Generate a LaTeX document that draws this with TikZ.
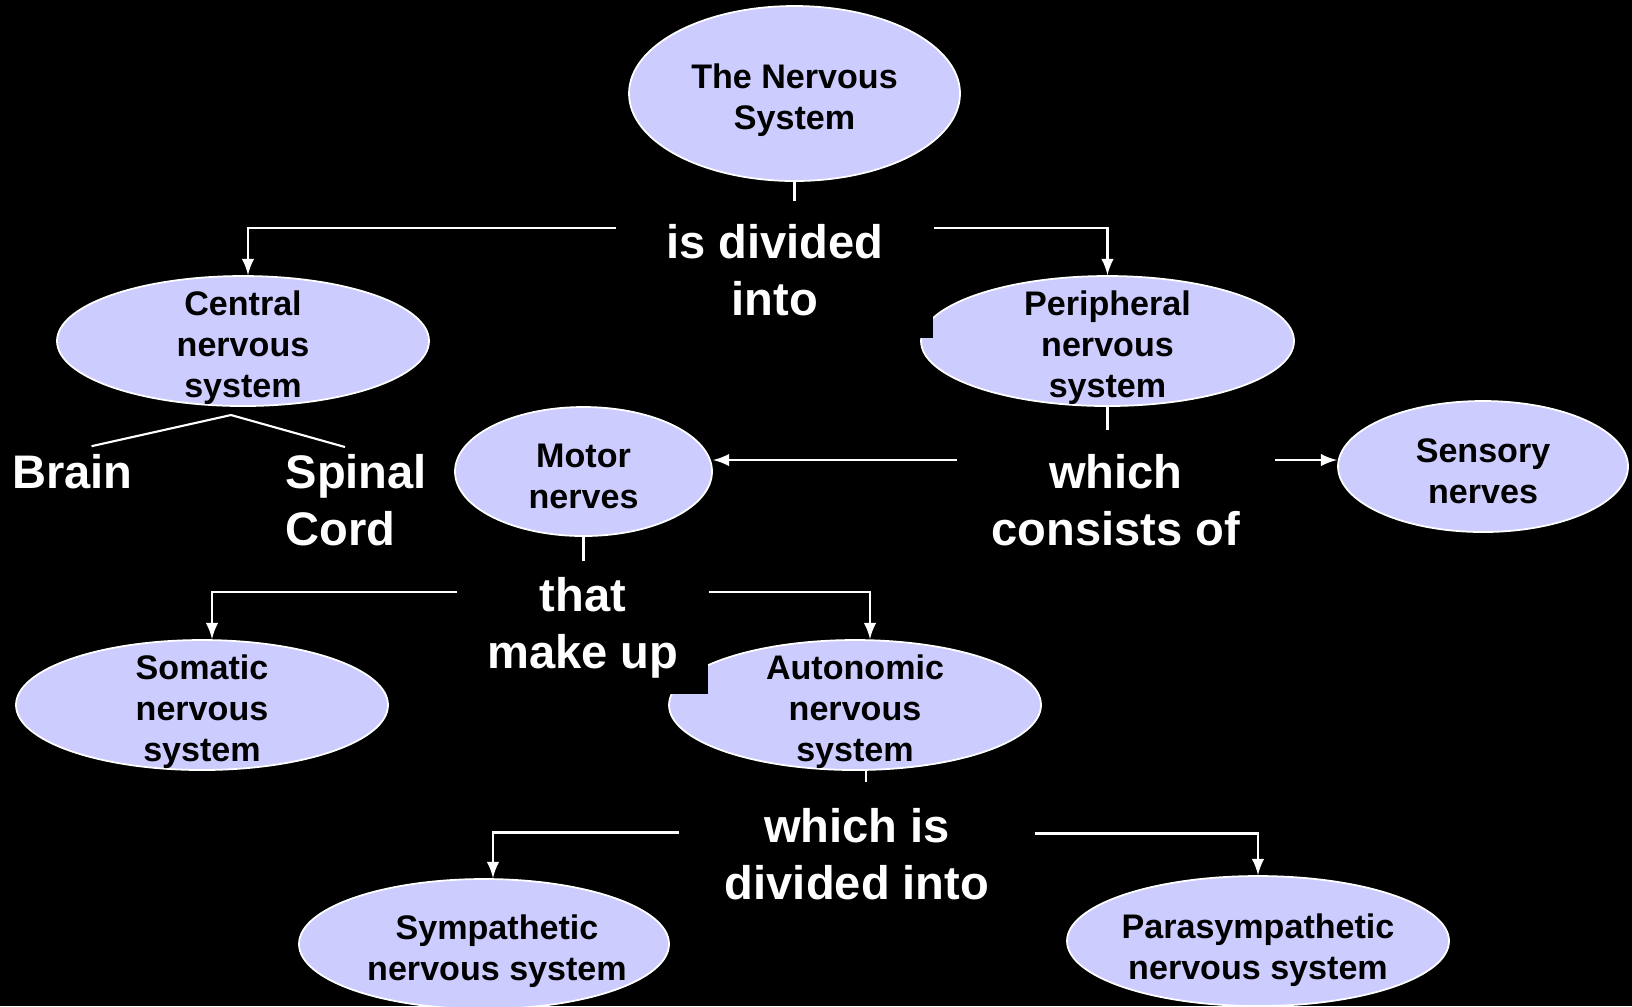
\documentclass[tikz,border=0pt]{standalone}
\usepackage{fontspec}
\setmainfont{Liberation Sans}
\usetikzlibrary{arrows}
\usetikzlibrary{shapes.geometric}
\definecolor{mlav}{rgb}{0.8, 0.8, 1}
\newcommand{\linkfont}{\fontsize{13.4}{16.2}\selectfont\bfseries}
\newcommand{\bubfont}{\fontsize{9.7}{11.7}\selectfont\bfseries}

\begin{document}
\begin{tikzpicture}[
    bubble/.style={ellipse, draw=white, fill=mlav, line width=0.5pt, inner sep=0pt},
    bubbletext/.style={align=center, text=black, font=\bubfont, yshift=-0.7mm},
    linker/.style={fill=black, inner sep=0pt, align=center, text=white, font=\linkfont},
    word/.style={text=white, font=\linkfont, inner sep=0.7mm},
    link/.style={white, line width=0.6pt},
    arrowlink/.style={-latex, white, line width=0.6pt}
  ]
  \useasboundingbox (0,0) rectangle (16.32,-10.06);
  \fill[black] (0,0) rectangle (16.32,-10.06);

  % concept bubbles
  \node[bubble, minimum width=3.31cm, minimum height=1.75cm] (nervous) at (7.945,-0.935) {};
  \node[bubble, minimum width=3.72cm, minimum height=1.30cm] (central) at (2.43,-3.41) {};
  \node[bubble, minimum width=3.73cm, minimum height=1.30cm] (periph) at (11.075,-3.41) {};
  \node[bubble, minimum width=2.57cm, minimum height=1.29cm] (motor) at (5.835,-4.715) {};
  \node[bubble, minimum width=2.90cm, minimum height=1.31cm] (sensory) at (14.83,-4.665) {};
  \node[bubble, minimum width=3.72cm, minimum height=1.30cm] (somatic) at (2.02,-7.05) {};
  \node[bubble, minimum width=3.72cm, minimum height=1.30cm] (autonom) at (8.55,-7.05) {};
  \node[bubble, minimum width=3.70cm, minimum height=1.30cm] (sympa) at (4.84,-9.44) {};
  \node[bubble, minimum width=3.82cm, minimum height=1.30cm] (parasym) at (12.58,-9.41) {};

  % linking words
  \node[linker, minimum width=3.16cm, minimum height=1.36cm] (divided) at (7.75,-2.70) {is divided\\into};
  \node[linker, minimum width=3.16cm, minimum height=1.38cm] (consists) at (11.16,-5.0) {which\\consists of};
  \node[linker, minimum width=2.50cm, minimum height=1.32cm] (makeup) at (5.83,-6.28) {that\\make up};
  \node[linker, minimum width=3.54cm, minimum height=1.43cm] (isdivided) at (8.57,-8.545) {which is\\divided into};

  % bubble texts
  \node[bubbletext] (nervoustxt) at (nervous) {The Nervous\\System};
  \node[bubbletext] (centraltxt) at (central) {Central\\nervous\\system};
  \node[bubbletext] (periphtxt) at (periph) {Peripheral\\nervous\\system};
  \node[bubbletext, yshift=0.2mm] (motortxt) at (motor) {Motor\\nerves};
  \node[bubbletext, yshift=0.2mm] (sensorytxt) at (sensory) {Sensory\\nerves};
  \node[bubbletext] (somatictxt) at (somatic) {Somatic\\nervous\\system};
  \node[bubbletext] (autonomtxt) at (autonom) {Autonomic\\nervous\\system};
  \node[bubbletext, xshift=1.3mm] (sympatxt) at (sympa) {Sympathetic\\nervous system};
  \node[bubbletext, yshift=-0.2mm] (parasymtxt) at (parasym) {Parasympathetic\\nervous system};

  % brain and spinal cord
  \coordinate (fork) at (2.31,-4.15);
  \node[word, anchor=base] (brain) at (0.725,-4.88) {Brain};
  \node[word, align=left, anchor=north west] (spinal) at (2.78,-4.47) {Spinal\\Cord};
  \draw[link] (fork) -- ([xshift=1.9mm]brain.north);
  \draw[link] (fork) -- ([xshift=6.7mm]spinal.north west);

  % connectors
  \draw[link] (nervous.south) -- (nervous.south |- divided.north);
  \draw[arrowlink] ([yshift=4.2mm]divided.west) -| ([xshift=0.5mm]central.north);
  \draw[arrowlink] ([yshift=4.2mm]divided.east) -| (periph.north);
  \draw[link] (periph.south) -- (periph.south |- consists.north);
  \draw[arrowlink] ([yshift=4mm]consists.west) -- ([yshift=4mm]consists.west -| motor.east);
  \draw[arrowlink] ([yshift=4mm]consists.east) -- ([yshift=4mm]consists.east -| sensory.west);
  \draw[link] (motor.south) -- (motor.south |- makeup.north);
  \draw[arrowlink] ([yshift=3.6mm]makeup.west) -| ([xshift=1mm]somatic.north);
  \draw[arrowlink] ([yshift=3.6mm]makeup.east) -| ([xshift=1.5mm]autonom.north);
  \draw[link] ([xshift=1.1mm]autonom.south) -- ([xshift=1.1mm]autonom.south |- isdivided.north);
  \draw[arrowlink] ([yshift=2.2mm]isdivided.west) -| ([xshift=0.9mm]sympa.north);
  \draw[arrowlink] ([yshift=2.1mm]isdivided.east) -| (parasym.north);
\end{tikzpicture}
\end{document}
